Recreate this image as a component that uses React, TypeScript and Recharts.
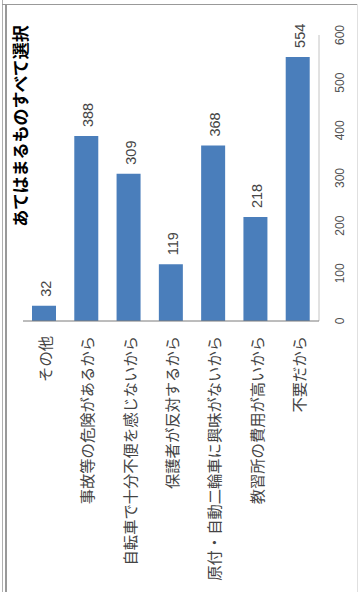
import React from "react";
import { BarChart, Bar, XAxis, YAxis, LabelList } from "recharts";

const categories = [
  "その他",
  "事故等の危険があるから",
  "自転車で十分不便を感じないから",
  "保護者が反対するから",
  "原付・自動二輪車に興味がないから",
  "教習所の費用が高いから",
  "不要だから",
];
const counts = [32, 388, 309, 119, 368, 218, 554];
const valueTicks = [0, 100, 200, 300, 400, 500, 600];
const title = "あてはまるものすべて選択";

const data = categories.map((name, i) => ({ name, value: counts[i] }));

// chart is drawn upright (592 x 360) and then turned a quarter to the left
const W = 592;
const H = 360;
const JP = "'Noto Sans CJK JP', sans-serif";

const CategoryTick = ({ y, payload }: any) => (
  <text x={256} y={y} textAnchor="end" dominantBaseline="central" fontSize={15.3} fill="#444" fontFamily={JP}>
    {payload.value}
  </text>
);

const ValueTick = ({ x, payload }: any) => (
  <text x={x} y={340} textAnchor="middle" dominantBaseline="central" fontSize={12} fill="#505050" fontFamily="'Liberation Sans', Arial, sans-serif">
    {payload.value}
  </text>
);

const ValueLabel = (p: any) => (
  <text
    x={p.x + p.width + 9}
    y={p.y + p.height / 2 + 2}
    dominantBaseline="central"
    fontSize={14.5}
    fill="#454545"
    fontFamily="'Liberation Sans', Arial, sans-serif"
  >
    {p.value}
  </text>
);

export default function App() {
  return (
    <div style={{ position: "absolute", left: 0, top: 0, width: 360, height: 592, overflow: "hidden", background: "#fff" }}>
      <div
        style={{
          position: "absolute",
          left: 0,
          top: 0,
          width: W,
          height: H,
          transformOrigin: "0 0",
          transform: `translateY(${W}px) rotate(-90deg)`,
        }}
      >
        <div
          style={{
            position: "absolute",
            left: 316,
            top: 10,
            width: 300,
            height: 20,
            lineHeight: "20px",
            textAlign: "center",
            fontSize: 17,
            fontWeight: "bold",
            fontFamily: JP,
            color: "#000",
          }}
        >
          {title}
        </div>
        <BarChart layout="vertical" width={W} height={H} data={data} margin={{ top: 23, right: 35, bottom: 11, left: 11 }}>
          <XAxis
            type="number"
            domain={[0, 600]}
            ticks={valueTicks}
            height={30}
            axisLine={{ stroke: "#c4c4c4" }}
            tickLine={false}
            tick={<ValueTick />}
          />
          <YAxis
            type="category"
            dataKey="name"
            width={260}
            axisLine={{ stroke: "#7a7a7a" }}
            tickLine={false}
            tick={<CategoryTick />}
          />
          <Bar dataKey="value" fill="#4a7ebb" barSize={24} isAnimationActive={false}>
            <LabelList dataKey="value" content={<ValueLabel />} />
          </Bar>
        </BarChart>
      </div>
      {/* scanned frame */}
      <div style={{ position: "absolute", left: 2, top: 0, width: 1, height: 592, background: "#b0b0b0" }} />
      <div style={{ position: "absolute", left: 5, top: 4, width: 1.5, height: 588, background: "#999" }} />
      <div style={{ position: "absolute", left: 2, top: 4, width: 356, height: 1, background: "#999" }} />
      <div style={{ position: "absolute", left: 357, top: 4, width: 1, height: 588, background: "#e0e0e0" }} />
    </div>
  );
}
